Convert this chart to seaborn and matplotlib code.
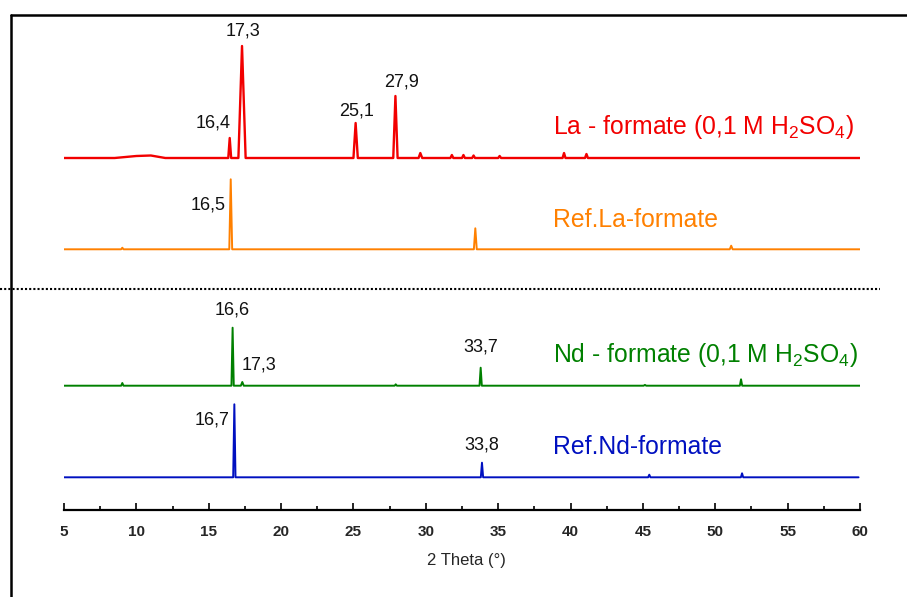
import matplotlib
matplotlib.use("Agg")
import matplotlib.pyplot as plt
from matplotlib.lines import Line2D
import seaborn as sns
import pandas as pd

# ---------------- data (2 theta, intensity above each pattern's baseline) ----------------
la_acid_x = [5, 8.5, 10.0, 11.0, 12.0, 16.35, 16.45, 16.55, 17.05, 17.3, 17.55, 25.0, 25.15, 25.3,
             27.75, 27.9, 28.05, 29.5, 29.62, 29.75, 31.7, 31.8, 31.9, 32.5, 32.6, 32.7,
             33.2, 33.3, 33.4, 35.0, 35.1, 35.2, 39.45, 39.55, 39.65, 41.0, 41.1, 41.2, 60]
la_acid_y = [0, 0, 2, 2.5, 0, 0, 20, 0, 0, 112, 0, 0, 35, 0,
             0, 62, 0, 0, 5, 0, 0, 3, 0, 0, 3, 0,
             0, 2.5, 0, 0, 2, 0, 0, 5, 0, 0, 4, 0, 0]

la_ref_x = [5, 8.95, 9.03, 9.11, 16.42, 16.52, 16.62, 33.32, 33.42, 33.52, 51.0, 51.1, 51.2, 60]
la_ref_y = [0, 0, 1.6, 0, 0, 70, 0, 0, 21, 0, 0, 3.6, 0, 0]

nd_acid_x = [5, 8.95, 9.03, 9.11, 16.57, 16.65, 16.73, 17.22, 17.32, 17.42, 27.85, 27.92, 28.0,
             33.71, 33.79, 33.87, 45.05, 45.14, 45.23, 51.7, 51.78, 51.86, 60]
nd_acid_y = [0, 0, 2.7, 0, 0, 58, 0, 0, 3.7, 0, 0, 1.4, 0,
             0, 18, 0, 0, 0.8, 0, 0, 6.4, 0, 0]

nd_ref_x = [5, 16.69, 16.77, 16.85, 33.8, 33.88, 33.96, 45.36, 45.44, 45.52, 51.77, 51.85, 51.93, 59.9]
nd_ref_y = [0, 0, 73, 0, 0, 14.6, 0, 0, 2.6, 0, 0, 4, 0, 0]

series_names = ["La - formate (0,1 M H$_2$SO$_4$)", "Ref.La-formate",
                "Nd - formate (0,1 M H$_2$SO$_4$)", "Ref.Nd-formate"]

la_acid_peaks = ["16,4", "17,3", "25,1", "27,9"]
la_ref_peaks = ["16,5"]
nd_acid_peaks = ["16,6", "17,3", "33,7"]
nd_ref_peaks = ["16,7", "33,8"]

x_ticks = [5, 10, 15, 20, 25, 30, 35, 40, 45, 50, 55, 60]
x_label = "2 Theta (°)"

# ---------------- layout / style ----------------
colors = ["#f20000", "#ff8000", "#008000", "#0010c0"]
offsets = [352, 260.7, 124.3, 32.7]
line_widths = [1.7, 1.4, 1.4, 1.4]
name_pos = [(38.79, 375.7), (38.79, 283.3), (38.79, 148.3), (38.79, 55.7)]
peak_label_pos = [
    [(15.3, 387.3), (17.37, 479), (25.24, 399.3), (28.33, 427.7)],
    [(14.95, 305)],
    [(16.59, 200), (18.5, 145), (33.79, 163.3)],
    [(15.2, 90), (33.86, 65)],
]

sns.set_theme(style="white")
plt.rcParams["font.family"] = ["Liberation Sans", "DejaVu Sans"]
plt.rcParams["mathtext.fontset"] = "custom"
plt.rcParams["mathtext.rm"] = "Liberation Sans"
plt.rcParams["mathtext.it"] = "Liberation Sans:italic"
plt.rcParams["mathtext.bf"] = "Liberation Sans:bold"

W, H = 907, 597
fig = plt.figure(figsize=(W / 100, H / 100), dpi=100)
ax = fig.add_axes([64 / W, 87 / H, 796 / W, 510 / H])
ax.set_facecolor("none")

xs = [la_acid_x, la_ref_x, nd_acid_x, nd_ref_x]
ys = [la_acid_y, la_ref_y, nd_acid_y, nd_ref_y]
peak_texts = [la_acid_peaks, la_ref_peaks, nd_acid_peaks, nd_ref_peaks]

for i in range(4):
    df = pd.DataFrame({"x": xs[i], "y": [v + offsets[i] for v in ys[i]]})
    sns.lineplot(data=df, x="x", y="y", color=colors[i], lw=line_widths[i],
                 estimator=None, sort=False, ax=ax)
    ax.text(name_pos[i][0], name_pos[i][1], series_names[i], color=colors[i],
            fontsize=17.8, ha="left", va="baseline")
    for t, (px, py) in zip(peak_texts[i], peak_label_pos[i]):
        ax.text(px, py, t, color="#111111", fontsize=13, ha="center", va="center")

ax.set_xlim(5, 60)
ax.set_ylim(0, 510)
for s in ["left", "right", "top"]:
    ax.spines[s].set_visible(False)
ax.spines["bottom"].set_visible(True)
ax.spines["bottom"].set_color("black")
ax.spines["bottom"].set_linewidth(1.6)
ax.set_yticks([])
ax.set_ylabel("")
ax.set_xticks(x_ticks)
ax.set_xticks([t + 2.5 for t in x_ticks[:-1]], minor=True)
ax.set_xticklabels([str(t) for t in x_ticks], fontweight="bold", fontsize=11)
ax.tick_params(axis="x", which="major", direction="in", length=5, width=1.2,
               color="black", pad=10.5, bottom=True)
ax.tick_params(axis="x", which="minor", direction="in", length=3, width=1.2,
               color="black", bottom=True)
ax.set_xlabel(x_label, fontsize=12)
ax.xaxis.set_label_coords((466 - 64) / 796, -0.085)
ax.xaxis.label.set_va("top")

# outer frame (left and top lines) and dotted separator
fig.add_artist(Line2D([11 / W, 11 / W], [0, 1 - 14.5 / H], transform=fig.transFigure,
                      color="black", lw=1.8))
fig.add_artist(Line2D([11 / W, 1], [1 - 14.5 / H, 1 - 14.5 / H], transform=fig.transFigure,
                      color="black", lw=1.8))
fig.add_artist(Line2D([0, 880 / W], [1 - 289 / H, 1 - 289 / H], transform=fig.transFigure,
                      color="black", lw=1.5, linestyle=(0, (1, 1))))

fig.savefig("out.png", dpi=100)
